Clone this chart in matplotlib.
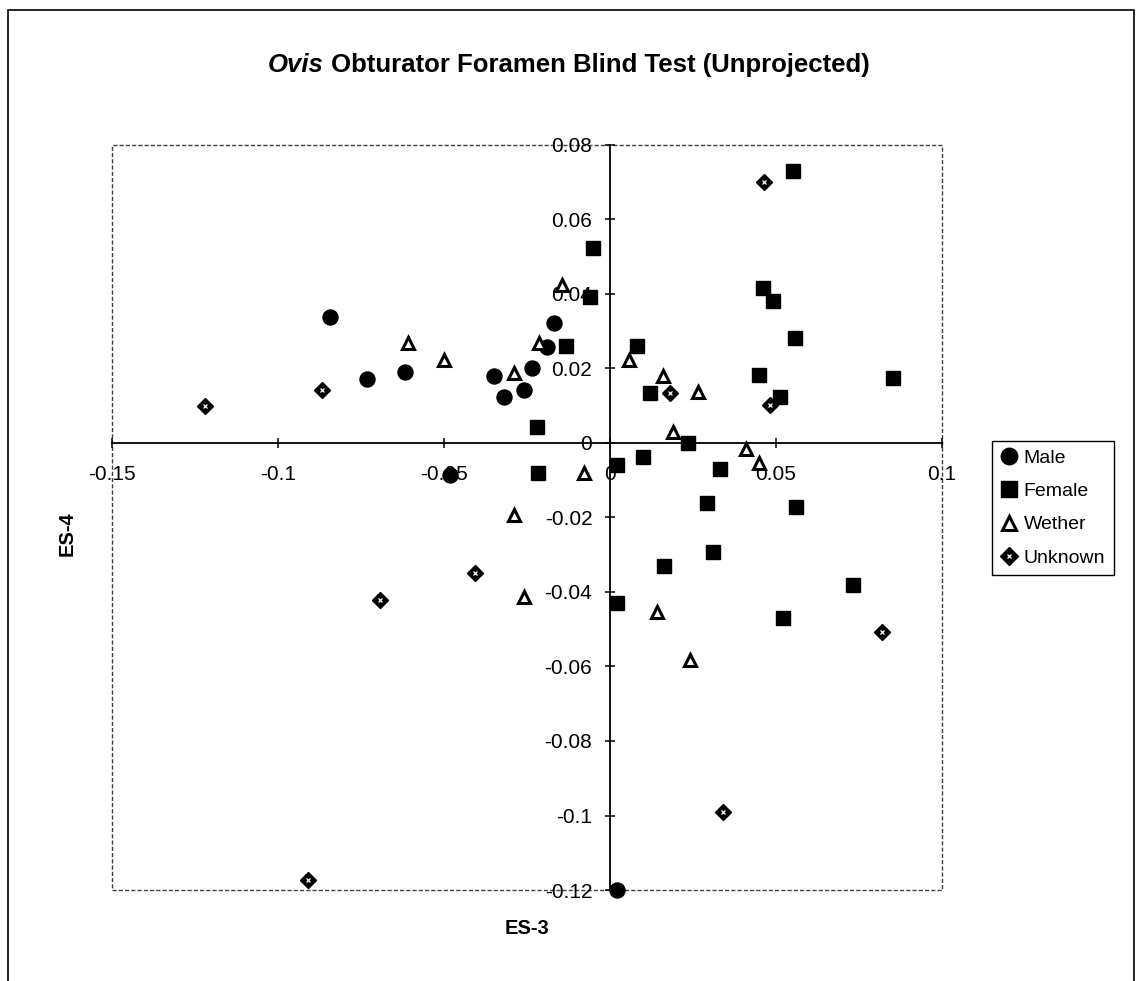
"""
Ovis obturator foramen blind test: ES-3 vs ES-4 scatter (unprojected).
"""
import numpy as np
import matplotlib
matplotlib.use("Agg")
import matplotlib.pyplot as plt
from matplotlib.patches import Rectangle
from matplotlib.legend_handler import HandlerTuple

plt.rcParams["font.family"] = ["Liberation Sans", "DejaVu Sans"]
plt.rcParams["axes.unicode_minus"] = False

# ---- data ----
male_x = [-0.0841, -0.0731, -0.0618, -0.0349, -0.0317, -0.0259, -0.0233,
          -0.0169, -0.0188, -0.0482, 0.0022]
male_y = [0.0338, 0.0171, 0.0191, 0.0180, 0.0123, 0.0142, 0.0201,
          0.0321, 0.0258, -0.0086, -0.1200]

female_x = [-0.0050, -0.0060, -0.0133, -0.0219, 0.0083, 0.0120, 0.0101,
            0.0551, 0.0461, 0.0492, 0.0559, 0.0451, 0.0514, 0.0854, 0.0235,
            -0.0217, 0.0022, 0.0165, 0.0022, 0.0333, 0.0293, 0.0562, 0.0311,
            0.0733, 0.0522]
female_y = [0.0523, 0.0393, 0.0260, 0.0044, 0.0260, 0.0133, -0.0038,
            0.0730, 0.0415, 0.0382, 0.0281, 0.0183, 0.0124, 0.0174, 0.0001,
            -0.0081, -0.0059, -0.0330, -0.0430, -0.0071, -0.0160, -0.0173,
            -0.0292, -0.0381, -0.0469]

wether_x = [-0.0608, -0.0500, -0.0289, -0.0214, -0.0143, 0.0057, 0.0161,
            0.0191, 0.0265, 0.0412, 0.0449, 0.0241, -0.0076, -0.0289,
            -0.0259, 0.0141]
wether_y = [0.0268, 0.0223, 0.0187, 0.0268, 0.0424, 0.0223, 0.0180,
            0.0030, 0.0138, -0.0017, -0.0055, -0.0583, -0.0081, -0.0193,
            -0.0413, -0.0453]

unknown_x = [-0.1218, -0.0866, 0.0183, 0.0464, 0.0484, -0.0691, -0.0910,
             -0.0405, 0.0820, 0.0341]
unknown_y = [0.0099, 0.0142, 0.0133, 0.0702, 0.0102, -0.0421, -0.1173,
             -0.0350, -0.0507, -0.0990]

x_ticks = [-0.15, -0.1, -0.05, 0, 0.05, 0.1]
x_ticklabels = ["-0.15", "-0.1", "-0.05", "0", "0.05", "0.1"]
y_ticks = [-0.12, -0.1, -0.08, -0.06, -0.04, -0.02, 0, 0.02, 0.04, 0.06, 0.08]
y_ticklabels = ["-0.12", "-0.1", "-0.08", "-0.06", "-0.04", "-0.02", "0",
                "0.02", "0.04", "0.06", "0.08"]

W, H = 1138, 981
fig = plt.figure(figsize=(W / 100, H / 100), dpi=100)

# outer chart border
fig.patches.append(Rectangle((8 / W, -0.01), 1126 / W, 1 - 10 / H + 0.01,
                             transform=fig.transFigure, fill=False,
                             ec="black", lw=1.2))

ax = fig.add_axes([111.7 / W, 1 - 890 / H, 830 / W, 745 / H])
ax.set_xlim(-0.15, 0.1)
ax.set_ylim(-0.12, 0.08)

# plot-area frame (dotted in the scan)
ax.add_patch(Rectangle((0, 0), 1, 1, transform=ax.transAxes, fill=False,
                       ec="0.25", lw=1.0, ls=(0, (3, 1.5)), clip_on=False,
                       zorder=1))

for s in ("top", "right"):
    ax.spines[s].set_visible(False)
ax.spines["left"].set_position(("data", 0))
ax.spines["bottom"].set_position(("data", 0))
for s in ("left", "bottom"):
    ax.spines[s].set_linewidth(1.3)

ax.set_xticks(x_ticks)
ax.set_xticklabels(x_ticklabels)
ax.set_yticks(y_ticks)
ax.set_yticklabels(y_ticklabels)
ax.tick_params(axis="both", direction="inout", length=7, width=1.1,
               labelsize=15)
ax.tick_params(axis="x", pad=12)
ax.tick_params(axis="y", pad=9)

# markers
ms_kw = dict(ls="none", color="black", zorder=3, clip_on=False)
h_m, = ax.plot(male_x, male_y, marker="o", ms=10.8, mec="black", **ms_kw)
h_f, = ax.plot(female_x, female_y, marker="s", ms=10.2, mec="black", **ms_kw)
h_w, = ax.plot(wether_x, wether_y, marker="^", ms=9.0, mfc="white",
               mec="black", mew=2.2, **ms_kw)
h_u, = ax.plot(unknown_x, unknown_y, marker="D", ms=8.0, mec="black",
               **ms_kw)
h_u2, = ax.plot(unknown_x, unknown_y, marker="x", ms=3.2, mec="white",
                mew=0.9, ls="none", zorder=4, clip_on=False)

ax.legend([h_m, h_f, h_w, (h_u, h_u2)], ["Male", "Female", "Wether", "Unknown"],
          handler_map={tuple: HandlerTuple(ndivide=1, pad=0)},
          loc="upper left", bbox_to_anchor=(991.7 / W, 1 - 440.7 / H),
          bbox_transform=fig.transFigure, borderaxespad=0, fancybox=False,
          edgecolor="black", framealpha=1, fontsize=14, handlelength=0.9,
          handletextpad=0.3, labelspacing=0.8, borderpad=0.45,
          markerscale=1.1)
leg = ax.get_legend()
leg.get_frame().set_linewidth(1.0)

# axis titles
fig.text(526.7 / W, 1 - 928 / H, "ES-3", ha="center", va="center",
         fontsize=14.5, fontweight="bold")
fig.text(67 / W, 1 - 534 / H, "ES-4", ha="center", va="center",
         rotation=90, fontsize=14.5, fontweight="bold")

# title: italic genus name followed by upright bold text, centred together
t1 = fig.text(0, 1 - 72 / H, "Ovis", fontsize=18.5, fontweight="bold",
              fontstyle="italic", va="baseline")
t2 = fig.text(0, 1 - 72 / H, " Obturator Foramen Blind Test (Unprojected)",
              fontsize=18.5, fontweight="bold", va="baseline")
fig.canvas.draw()
r = fig.canvas.get_renderer()
w1 = t1.get_window_extent(r).width
w2 = t2.get_window_extent(r).width
x0 = 569 - (w1 + w2) / 2
t1.set_x(x0 / W)
t2.set_x((x0 + w1) / W)

fig.savefig("out.png", dpi=100)
